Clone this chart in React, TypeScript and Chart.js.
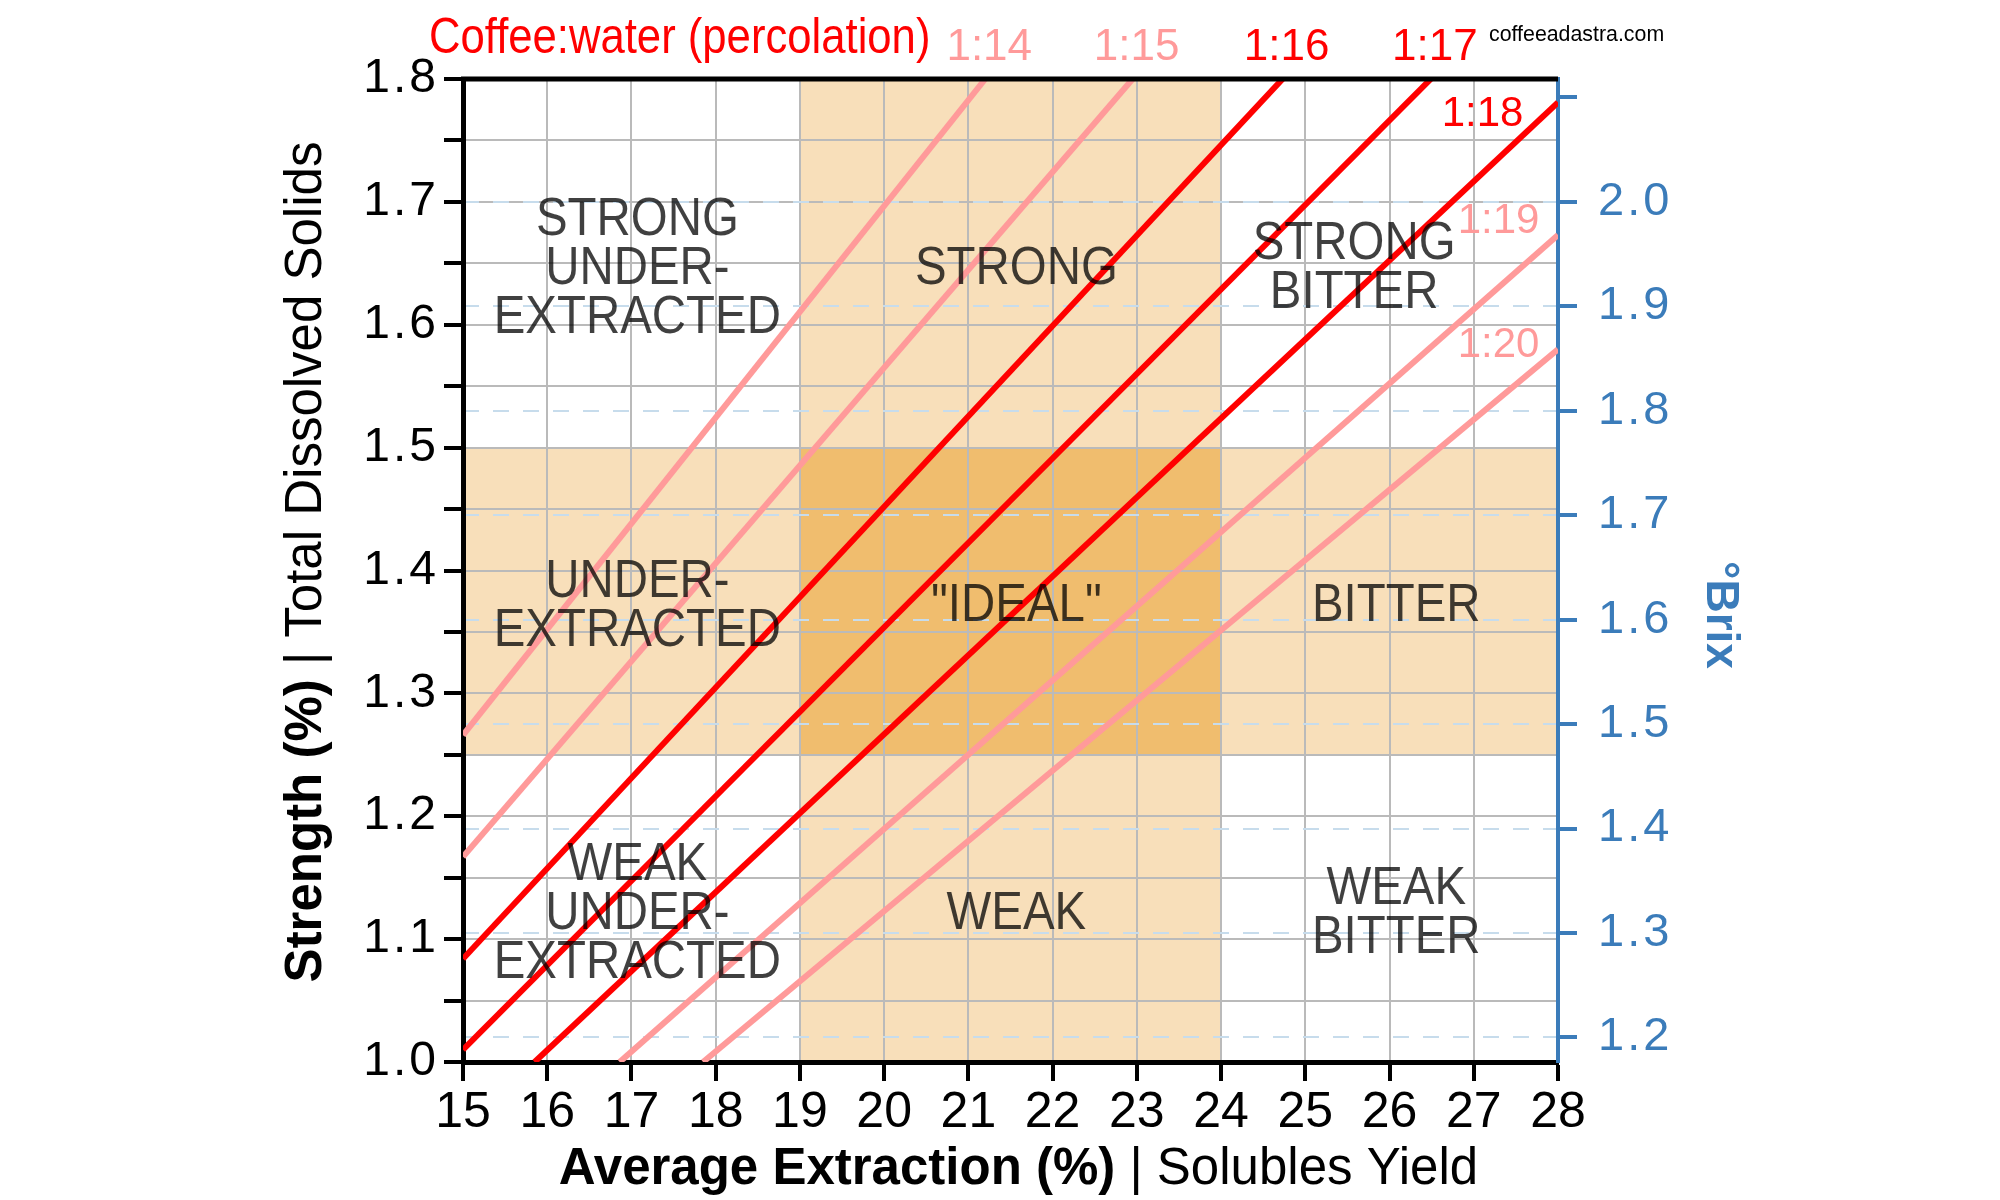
import React, { useEffect, useRef } from 'react';
import { Chart, registerables, LinearScale } from 'chart.js';

Chart.register(...registerables);

// ---------------- data ----------------
const extractionTicks = [15, 16, 17, 18, 19, 20, 21, 22, 23, 24, 25, 26, 27, 28];
const tdsTicks = [1.0, 1.05, 1.1, 1.15, 1.2, 1.25, 1.3, 1.35, 1.4, 1.45, 1.5, 1.55, 1.6, 1.65, 1.7, 1.75, 1.8];
const brixTicks = [1.2, 1.3, 1.4, 1.5, 1.6, 1.7, 1.8, 1.9, 2.0, 2.1];
const TDS_PER_BRIX = 0.85;

const ratioLabels = ['1:14', '1:15', '1:16', '1:17', '1:18', '1:19', '1:20'];
const lineStartEY = [15, 15, 15, 15, 15.85, 16.86, 17.85];
const lineStartTDS = [1.266, 1.167, 1.084, 1.01, 1.0, 1.0, 1.0];
const lineEndEY = [21.2, 22.95, 24.73, 26.49, 28, 28, 28];
const lineEndTDS = [1.8, 1.8, 1.8, 1.8, 1.781, 1.673, 1.58];
const highlightedRatios = ['1:16', '1:17', '1:18'];
const topLabelRatios = ['1:14', '1:15', '1:16', '1:17'];
const sideLabelRatios = ['1:18', '1:19', '1:20'];
const sideLabelEY = [27.59, 27.78, 27.78];
const sideLabelTDS = [1.762, 1.675, 1.574];

const idealEY = [19, 24];
const idealTDS = [1.25, 1.5];

const regionLines = [
  ['STRONG', 'UNDER-', 'EXTRACTED'], ['STRONG'], ['STRONG', 'BITTER'],
  ['UNDER-', 'EXTRACTED'], ['"IDEAL"'], ['BITTER'],
  ['WEAK', 'UNDER-', 'EXTRACTED'], ['WEAK'], ['WEAK', 'BITTER'],
];
const regionEY = [17.07, 21.57, 25.58, 17.07, 21.57, 26.08, 17.07, 21.57, 26.08];
const regionTDS = [1.649, 1.649, 1.649, 1.374, 1.374, 1.374, 1.124, 1.124, 1.124];

const topTitle = 'Coffee:water (percolation)';
const watermark = 'coffeeadastra.com';
const xTitleBold = 'Average Extraction (%)';
const xTitleRegular = ' | Solubles Yield';
const yTitleBold = 'Strength (%)';
const yTitleRegular = ' | Total Dissolved Solids';
const y2Title = '°Brix';

// ---------------- styles ----------------
const RED = '#ff0000';
const PINK = '#ff9a9a';
const LIGHT = '#f8dfba';
const DARK = '#f0bd6e';
const GRID = '#bababa';
const BLUE = '#3b7cba';
const BRIX_GRID = '#c7dcec';
const SANS = '"Liberation Sans", Arial, sans-serif';
const NARROW = '"Liberation Sans Narrow", "Liberation Sans", Arial, sans-serif';

const LETTER_SPACING: Record<string, string> = { y: '3px', y2: '3px' };

class SpacedLinearScale extends LinearScale {
  static id = 'spacedLinear';
  static defaults = LinearScale.defaults;
  drawLabels(chartArea: any) {
    const ctx: any = this.ctx;
    const prev = ctx.letterSpacing;
    ctx.letterSpacing = LETTER_SPACING[this.id] || '0px';
    super.drawLabels(chartArea);
    ctx.letterSpacing = prev || '0px';
  }
}
Chart.register(SpacedLinearScale as any);

function txt(ctx: any, text: string, x: number, y: number, font: string, color: string, align: string, scaleX = 1) {
  ctx.save();
  ctx.letterSpacing = '0px';
  ctx.font = font;
  ctx.fillStyle = color;
  ctx.textAlign = align;
  ctx.textBaseline = 'alphabetic';
  ctx.translate(x, y);
  ctx.scale(scaleX, 1);
  ctx.fillText(text, 0, 0);
  ctx.restore();
}

function mixed(ctx: any, boldText: string, regText: string, size: number, color: string) {
  ctx.font = `bold ${size}px ${SANS}`;
  const wb = ctx.measureText(boldText).width;
  ctx.font = `${size}px ${SANS}`;
  const wr = ctx.measureText(regText).width;
  const start = -(wb + wr) / 2;
  ctx.fillStyle = color;
  ctx.textAlign = 'left';
  ctx.textBaseline = 'alphabetic';
  ctx.font = `bold ${size}px ${SANS}`;
  ctx.fillText(boldText, start, 0);
  ctx.font = `${size}px ${SANS}`;
  ctx.fillText(regText, start + wb, 0);
}

const overlayPlugin = {
  id: 'overlay',
  beforeDraw(chart: any) {
    const { ctx, chartArea: a, scales } = chart;
    const x = scales.x, y = scales.y;
    const cx1 = x.getPixelForValue(idealEY[0]);
    const cx2 = x.getPixelForValue(idealEY[1]);
    const ry1 = y.getPixelForValue(idealTDS[1]);
    const ry2 = y.getPixelForValue(idealTDS[0]);
    ctx.save();
    ctx.fillStyle = LIGHT;
    ctx.fillRect(cx1, a.top, cx2 - cx1, a.bottom - a.top);
    ctx.fillRect(a.left, ry1, a.right - a.left, ry2 - ry1);
    ctx.fillStyle = DARK;
    ctx.fillRect(cx1, ry1, cx2 - cx1, ry2 - ry1);
    ctx.restore();
  },
  afterDraw(chart: any) {
    const { ctx, chartArea: a, scales } = chart;
    const x = scales.x, y = scales.y;
    ctx.save();
    ctx.letterSpacing = '0px';
    // top border
    ctx.strokeStyle = '#000';
    ctx.lineWidth = 5;
    ctx.beginPath();
    ctx.moveTo(a.left - 2, a.top);
    ctx.lineTo(a.right, a.top);
    ctx.stroke();

    // region labels
    const rs = 53, rcap = 0.716 * rs, lh = 49;
    regionLines.forEach((lines, i) => {
      const cx = x.getPixelForValue(regionEY[i]);
      const cy = y.getPixelForValue(regionTDS[i]);
      lines.forEach((t, k) => {
        const lc = cy + (k - (lines.length - 1) / 2) * lh;
        txt(ctx, t, cx, lc + rcap / 2, `${rs}px ${SANS}`, 'rgba(0,0,0,0.75)', 'center', 0.895);
      });
    });

    // top ratio labels
    topLabelRatios.forEach((r) => {
      const i = ratioLabels.indexOf(r);
      const px = x.getPixelForValue(lineEndEY[i]) + 4;
      txt(ctx, r, px, 60, `44px ${SANS}`, highlightedRatios.includes(r) ? RED : PINK, 'center');
    });
    // side ratio labels
    sideLabelRatios.forEach((r, k) => {
      const px = x.getPixelForValue(sideLabelEY[k]);
      const py = y.getPixelForValue(sideLabelTDS[k]);
      txt(ctx, r, px, py, `42px ${SANS}`, highlightedRatios.includes(r) ? RED : PINK, 'right');
    });

    // top title & watermark
    txt(ctx, topTitle, 429, 53, `50px ${SANS}`, RED, 'left', 0.873);
    txt(ctx, watermark, 1489, 41, `22px ${SANS}`, '#000', 'left', 0.97);

    // x title
    ctx.save();
    ctx.translate((a.left + a.right) / 2 + 8, 1184);
    mixed(ctx, xTitleBold, xTitleRegular, 51, '#000');
    ctx.restore();

    // y title
    ctx.save();
    ctx.translate(321, 562);
    ctx.rotate(-Math.PI / 2);
    mixed(ctx, yTitleBold, yTitleRegular, 51, '#000');
    ctx.restore();

    // brix title
    ctx.save();
    ctx.translate(1707, 615);
    ctx.rotate(Math.PI / 2);
    ctx.font = `bold 46px ${SANS}`;
    ctx.fillStyle = BLUE;
    ctx.textAlign = 'center';
    ctx.textBaseline = 'alphabetic';
    ctx.fillText(y2Title, 0, 0);
    ctx.restore();

    ctx.restore();
  },
};

export default function App() {
  const ref = useRef<HTMLCanvasElement | null>(null);
  useEffect(() => {
    if (!ref.current) return;
    const chart = new Chart(ref.current, {
      type: 'line',
      data: {
        datasets: ratioLabels.map((r, i) => ({
          label: r,
          data: [
            { x: lineStartEY[i], y: lineStartTDS[i] },
            { x: lineEndEY[i], y: lineEndTDS[i] },
          ],
          borderColor: highlightedRatios.includes(r) ? RED : PINK,
          borderWidth: 6,
          pointRadius: 0,
          fill: false,
          tension: 0,
          xAxisID: 'x',
          yAxisID: 'y',
        })),
      },
      options: {
        animation: false,
        responsive: false,
        devicePixelRatio: 1,
        events: [],
        layout: { padding: { top: 79, left: 0, right: 0, bottom: 0 } },
        plugins: { legend: { display: false }, tooltip: { enabled: false }, title: { display: false } },
        scales: {
          x: {
            type: 'linear',
            position: 'bottom',
            min: extractionTicks[0],
            max: extractionTicks[extractionTicks.length - 1],
            afterBuildTicks: (s: any) => { s.ticks = extractionTicks.map((v) => ({ value: v })); },
            afterFit: (s: any) => { s.height = 138; },
            ticks: {
              color: '#000',
              font: { family: NARROW, size: 50 },
              padding: 2,
              maxRotation: 0,
              autoSkip: false,
              callback: (v: any) => String(v),
            },
            grid: { color: GRID, lineWidth: 2, tickLength: 19, tickWidth: 4, tickColor: '#000' },
            border: { color: '#000', width: 5 },
          },
          y: {
            type: 'spacedLinear',
            position: 'left',
            min: tdsTicks[0],
            max: tdsTicks[tdsTicks.length - 1],
            afterBuildTicks: (s: any) => { s.ticks = tdsTicks.map((v) => ({ value: v })); },
            afterFit: (s: any) => { s.width = 463; },
            ticks: {
              color: '#000',
              font: { family: SANS, size: 48 },
              padding: 5,
              autoSkip: false,
              callback: (v: any) => (Math.abs(v * 10 - Math.round(v * 10)) < 1e-6 ? Number(v).toFixed(1) : ''),
            },
            grid: { color: GRID, lineWidth: 2, tickLength: 19, tickWidth: 4, tickColor: '#000' },
            border: { color: '#000', width: 5 },
          } as any,
          y2: {
            type: 'spacedLinear',
            position: 'right',
            min: tdsTicks[0] / TDS_PER_BRIX,
            max: tdsTicks[tdsTicks.length - 1] / TDS_PER_BRIX,
            afterBuildTicks: (s: any) => { s.ticks = brixTicks.map((v) => ({ value: v })); },
            afterFit: (s: any) => { s.width = 442; },
            ticks: {
              color: BLUE,
              font: { family: SANS, size: 47 },
              padding: 21,
              autoSkip: false,
              callback: (v: any) => (v <= 2.0 + 1e-9 ? Number(v).toFixed(1) : ''),
            },
            grid: {
              color: (c: any) => (c.tick && c.tick.value > 2.05 ? 'rgba(0,0,0,0)' : BRIX_GRID),
              lineWidth: 2,
              tickLength: 19,
              tickWidth: 4,
              tickColor: BLUE,
              tickBorderDash: [],
            },
            border: { color: BLUE, width: 4, dash: [16, 14] },
          } as any,
        },
      } as any,
      plugins: [overlayPlugin],
    });
    return () => chart.destroy();
  }, []);
  return (
    <div style={{ position: 'absolute', left: 0, top: 0, width: 2000, height: 1200, background: '#fff' }}>
      <canvas ref={ref} width={2000} height={1200} style={{ display: 'block', width: 2000, height: 1200 }} />
    </div>
  );
}
